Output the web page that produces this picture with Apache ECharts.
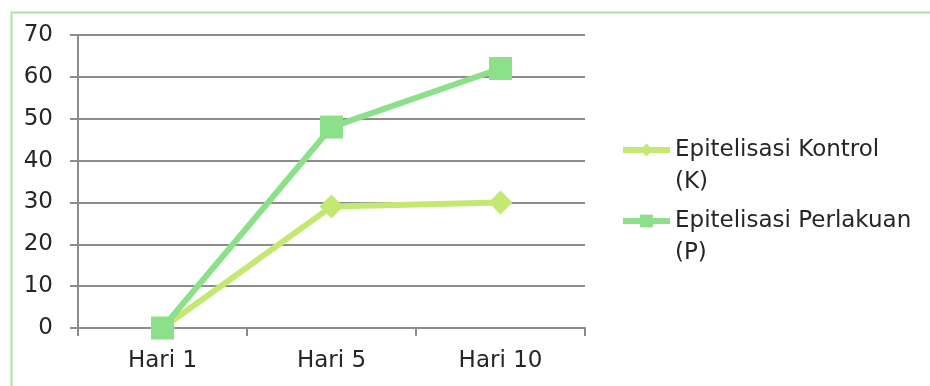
<!DOCTYPE html>
<html><head><meta charset="utf-8">
<script src="https://cdn.jsdelivr.net/npm/echarts@6/dist/echarts.min.js"></script>
<style>html,body{margin:0;padding:0;background:#fff}#c{width:930px;height:386px}</style>
</head><body><div id="c"></div>
<script>
const categories = ['Hari 1', 'Hari 5', 'Hari 10'];
const kontrol = [0, 29, 30];
const perlakuan = [0, 48, 62];
const seriesNames = ['Epitelisasi Kontrol\n(K)', 'Epitelisasi Perlakuan\n(P)'];
const yTicks = [0, 10, 20, 30, 40, 50, 60, 70];

const chart = echarts.init(document.getElementById('c'));
const font = 'DejaVu Sans';
const colK = '#c3e972';
const colP = '#8ce08a';
function legendFor(name, top) {
  return {
    orient: 'vertical', left: 620, top: top, padding: 0,
    itemWidth: 47, itemHeight: 16,
    lineStyle: { width: 6 },
    textStyle: {
      fontFamily: font, fontSize: 23, color: '#262626',
      rich: { t: { fontFamily: font, fontSize: 23, color: '#262626', lineHeight: 32, height: 32 } }
    },
    formatter: n => '{t| }\n' + n.split('\n').map(s => '{t|' + s + '}').join('\n'),
    data: [name]
  };
}
chart.setOption({
  animation: false,
  graphic: [{
    type: 'rect', left: 9, top: 10,
    shape: { width: 940, height: 400 },
    style: { fill: 'none', stroke: '#a8e6a0', lineWidth: 2 }
  }],
  grid: { left: 78, right: 345, top: 35, bottom: 58, containLabel: false },
  xAxis: {
    type: 'category', data: categories, boundaryGap: true,
    axisLine: { lineStyle: { color: '#8c8c8c', width: 2 } },
    axisTick: { show: true, length: 8, lineStyle: { color: '#8c8c8c', width: 2 } },
    axisLabel: { color: '#262626', fontFamily: font, fontSize: 23, margin: 22 }
  },
  yAxis: {
    type: 'value', min: yTicks[0], max: yTicks[yTicks.length - 1], interval: 10,
    axisLine: { show: true, lineStyle: { color: '#8c8c8c', width: 2 } },
    axisTick: { show: true, length: 8, lineStyle: { color: '#8c8c8c', width: 2 } },
    splitLine: { lineStyle: { color: '#8c8c8c', width: 2 } },
    axisLabel: { color: '#262626', fontFamily: font, fontSize: 23, margin: 25 }
  },
  legend: [legendFor(seriesNames[0], 102), legendFor(seriesNames[1], 173)],
  series: [
    { name: seriesNames[0], type: 'line', data: kontrol,
      symbol: 'diamond', symbolSize: 24,
      lineStyle: { color: colK, width: 6 },
      itemStyle: { color: colK } },
    { name: seriesNames[1], type: 'line', data: perlakuan,
      symbol: 'rect', symbolSize: 23,
      lineStyle: { color: colP, width: 6 },
      itemStyle: { color: colP } }
  ]
});
</script></body></html>
